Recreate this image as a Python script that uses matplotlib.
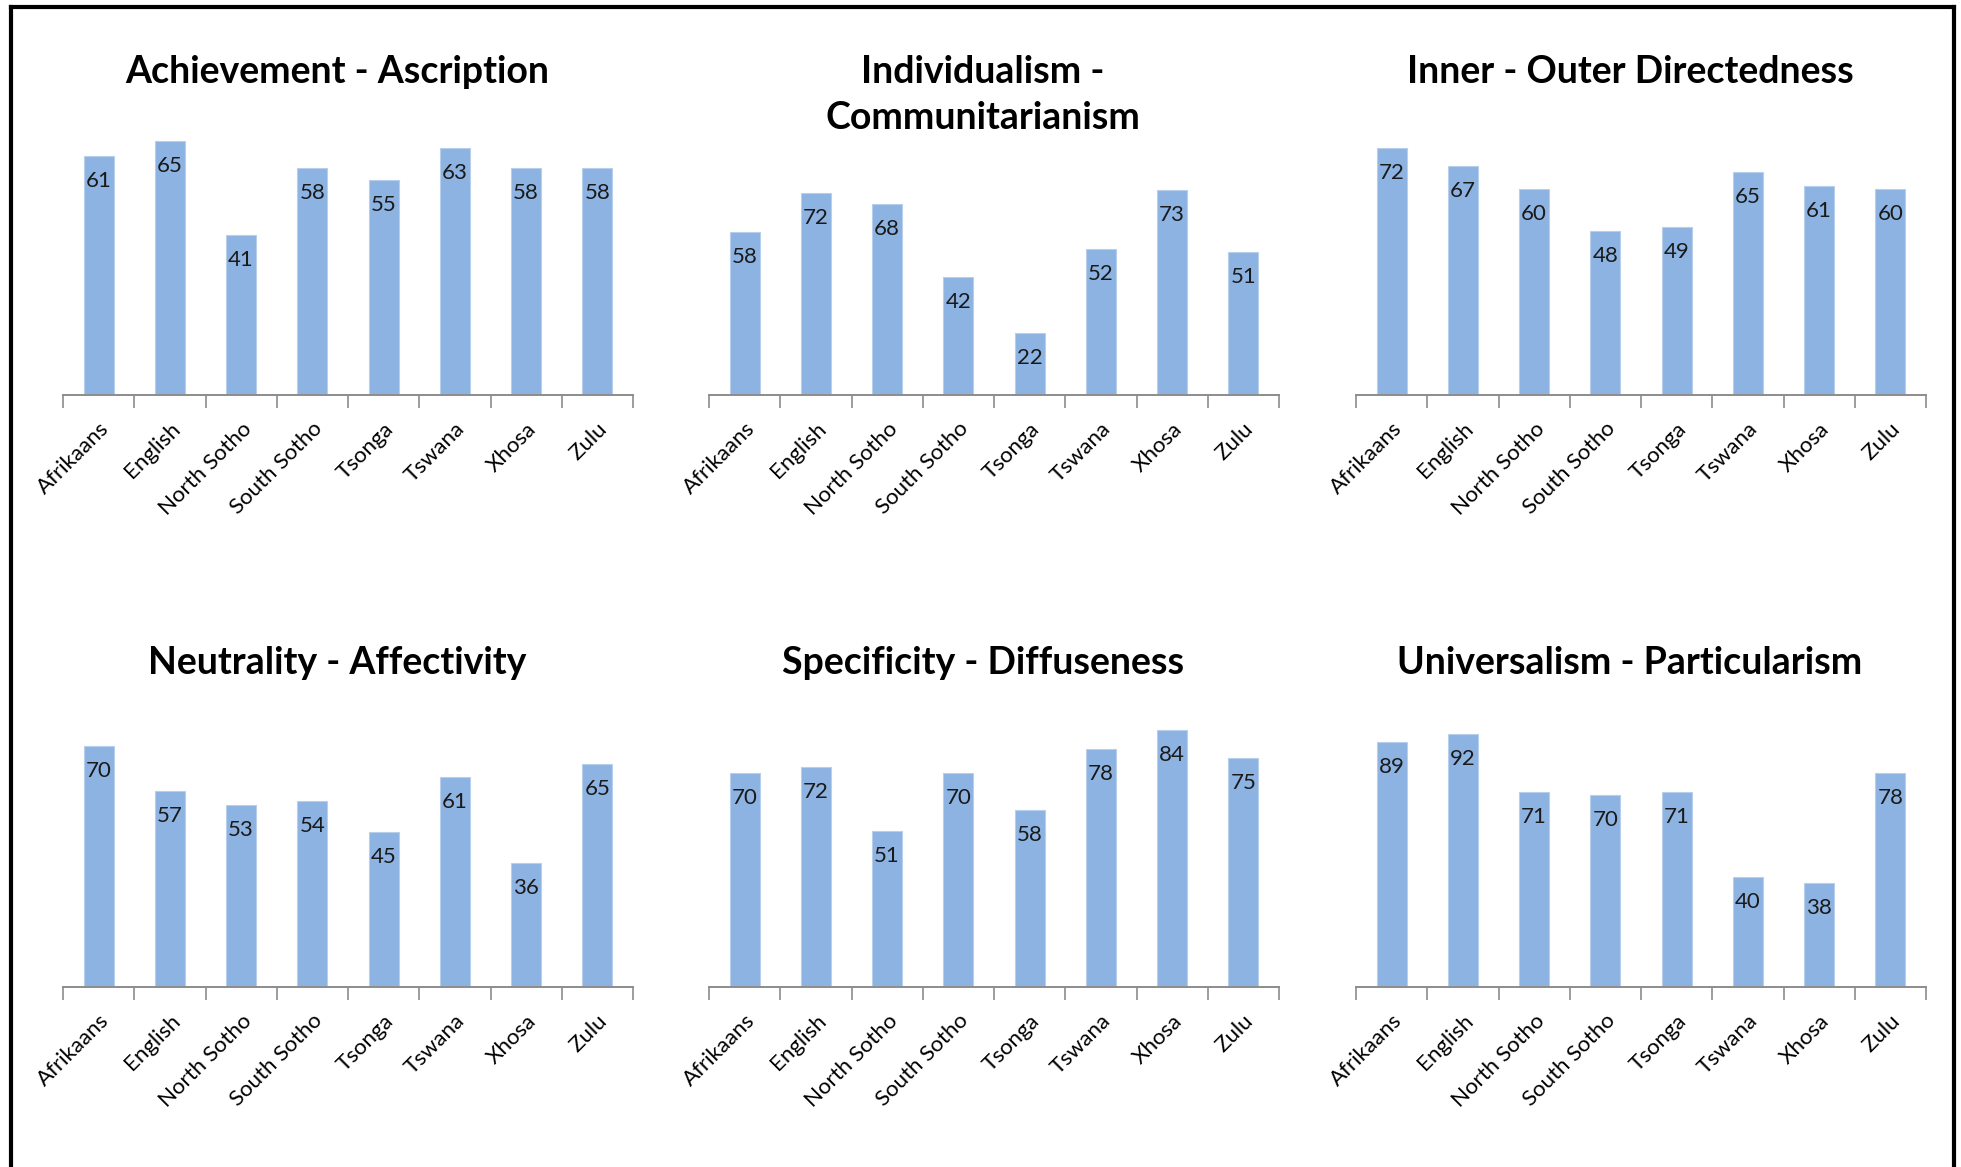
import matplotlib
matplotlib.use("Agg")
import matplotlib.pyplot as plt
from matplotlib.lines import Line2D

languages = ["Afrikaans", "English", "North Sotho", "South Sotho",
             "Tsonga", "Tswana", "Xhosa", "Zulu"]

titles = ["Achievement - Ascription",
          "Individualism -\nCommunitarianism",
          "Inner - Outer Directedness",
          "Neutrality - Affectivity",
          "Specificity - Diffuseness",
          "Universalism - Particularism"]

achievement = [61, 65, 41, 58, 55, 63, 58, 58]
individualism = [58, 72, 68, 42, 22, 52, 73, 51]
inner_outer = [72, 67, 60, 48, 49, 65, 61, 60]
neutrality = [70, 57, 53, 54, 45, 61, 36, 65]
specificity = [70, 72, 51, 70, 58, 78, 84, 75]
universalism = [89, 92, 71, 70, 71, 40, 38, 78]

series = [achievement, individualism, inner_outer,
          neutrality, specificity, universalism]
y_max = [70, 80, 80, 80, 90, 100]

W, H = 1961, 1167
DPI = 100
fig = plt.figure(figsize=(W / DPI, H / DPI), dpi=DPI)
fig.patch.set_facecolor("white")

FONT = "Lato"
BAR = "#8DB3E2"

col_x = [(63, 633), (709, 1279), (1356, 1926)]
row_base = [395, 987]
title_y = [72, 663]
tops = [121, 170, 121, 712, 712, 712]

for i in range(6):
    r, c = divmod(i, 3)
    x0, x1 = col_x[c]
    base = row_base[r]
    top = tops[i]
    ax = fig.add_axes([x0 / W, 1 - base / H, (x1 - x0) / W, (base - top) / H])
    vals = series[i]
    xs = list(range(len(languages)))
    bars = ax.bar(xs, vals, width=0.42, color=BAR, edgecolor="#B8CFEB",
                  linewidth=0.8, zorder=2)
    ax.set_xlim(-0.5, len(languages) - 0.5)
    ax.set_ylim(0, y_max[i])
    for b, v in zip(bars, vals):
        ax.annotate(str(v), (b.get_x() + b.get_width() / 2, v),
                    xytext=(0, -25), textcoords="offset pixels",
                    ha="center", va="center", fontsize=16,
                    family=FONT, color="#1a1a1a")
    for s in ["top", "right", "left"]:
        ax.spines[s].set_visible(False)
    ax.spines["bottom"].set_color("#8c8c8c")
    ax.spines["bottom"].set_linewidth(1.4)
    ax.set_yticks([])
    ax.set_xticks(xs)
    ax.set_xticklabels(languages, rotation=45, ha="right",
                       rotation_mode="anchor", fontsize=16, family=FONT)
    ax.tick_params(axis="x", which="major", length=0, pad=17)
    ax.set_xticks([k - 0.5 for k in range(len(languages) + 1)], minor=True)
    ax.tick_params(axis="x", which="minor", length=9, width=1.2,
                   color="#8c8c8c", direction="out")
    ax.patch.set_alpha(0)
    cx = (x0 + x1) / 2 - 11
    ty = title_y[r] if i != 1 else 95
    fig.text(cx / W, 1 - ty / H, titles[i], ha="center", va="center",
             fontsize=27, fontweight="bold", family=FONT,
             linespacing=1.45)

lw = 3
fig.add_artist(Line2D([11 / W, 11 / W], [0, 1 - 7 / H], color="black",
                      linewidth=lw, transform=fig.transFigure))
fig.add_artist(Line2D([1954 / W, 1954 / W], [0, 1 - 7 / H], color="black",
                      linewidth=lw, transform=fig.transFigure))
fig.add_artist(Line2D([11 / W, 1954 / W], [1 - 7 / H, 1 - 7 / H],
                      color="black", linewidth=lw,
                      transform=fig.transFigure))

fig.savefig("out.png", dpi=DPI, facecolor="white")
